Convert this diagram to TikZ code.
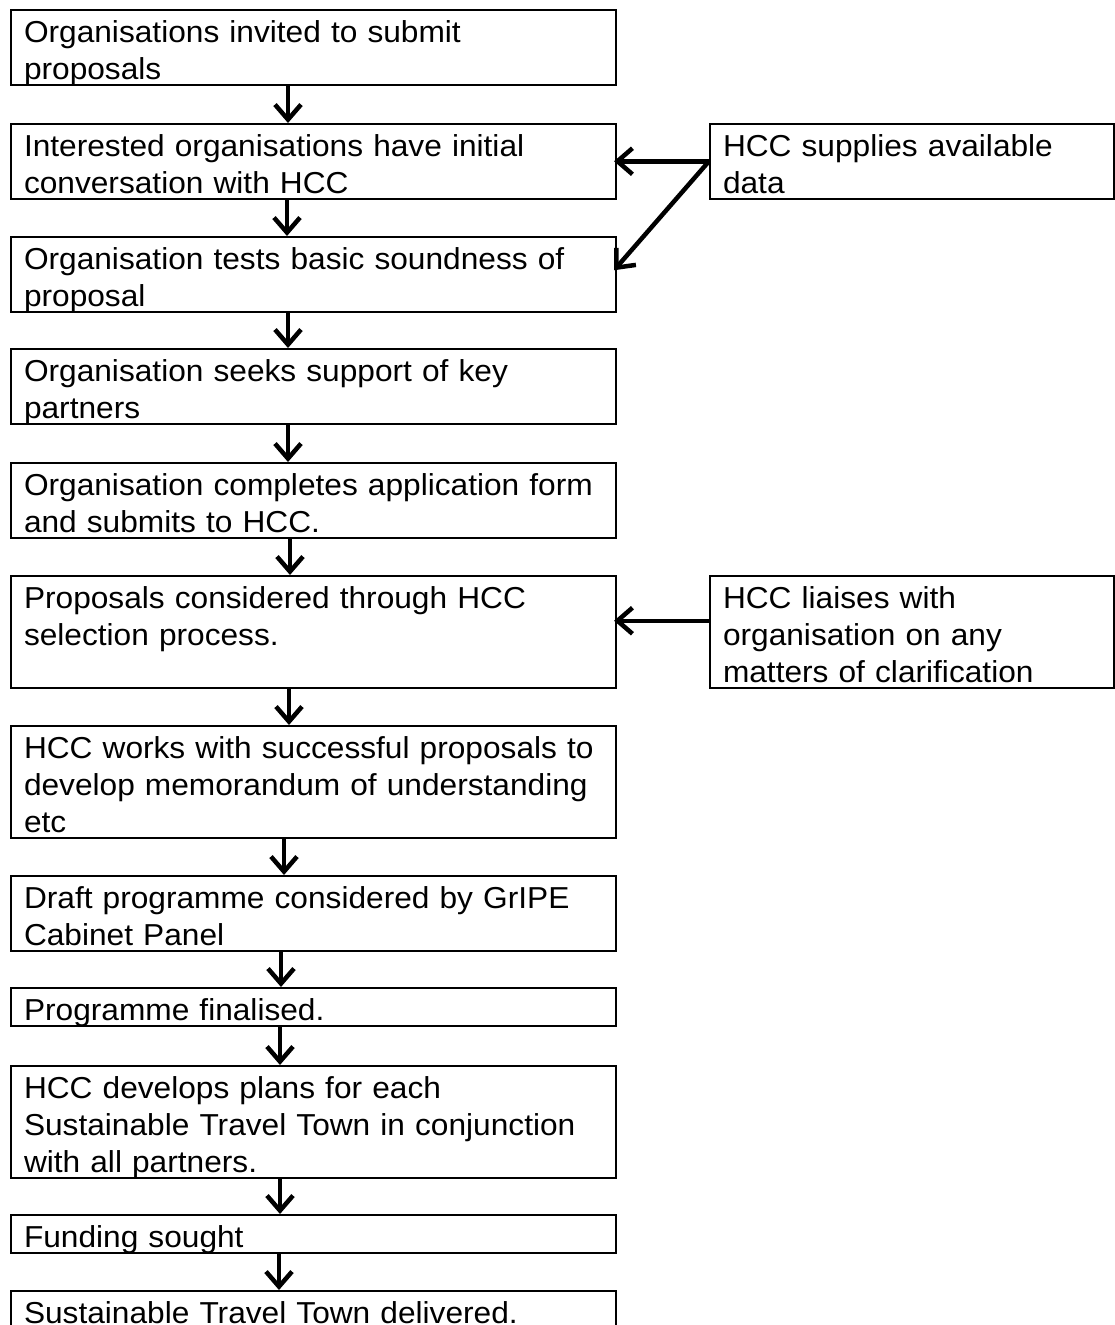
\documentclass[tikz,border=0pt]{standalone}
\usepackage{fontspec}
\setmainfont{Liberation Sans}[FakeStretch=1.045]
\usepackage{tikz}
\usetikzlibrary{calc, arrows.meta}
\tikzstyle{stage}=[draw, line width=2pt, shape=rectangle, anchor=north west, inner xsep=13pt, inner ysep=0pt, text width=579pt, align=left, text height=32.5pt, font=\fontsize{30.3}{37}\selectfont]
\tikzstyle{side}=[stage, text width=378pt]
\tikzstyle{oneln}=[text depth=5pt]
\tikzstyle{twoln}=[text depth=42pt]
\tikzstyle{threeln}=[text depth=79pt]
\tikzstyle{flow}=[line width=4.5pt, -{Straight Barb[length=15pt, width=26pt]}]

\begin{document}
\begin{tikzpicture}[x=1pt, y=-1pt]
\useasboundingbox (0,0) rectangle (1114,1325);
% the main column of stages
\node[stage, twoln] (S1) at (10, 9) {Organisations invited to submit\\proposals};
\node[stage, twoln] (S2) at (10, 123) {Interested organisations have initial\\conversation with HCC};
\node[stage, twoln] (S3) at (10, 236) {Organisation tests basic soundness of\\proposal};
\node[stage, twoln] (S4) at (10, 348) {Organisation seeks support of key\\partners};
\node[stage, twoln] (S5) at (10, 462) {Organisation completes application form\\and submits to HCC.};
\node[stage, threeln] (S6) at (10, 575) {Proposals considered through HCC\\selection process.};
\node[stage, threeln] (S7) at (10, 725) {HCC works with successful proposals to\\develop memorandum of understanding\\etc};
\node[stage, twoln] (S8) at (10, 875) {Draft programme considered by GrIPE\\Cabinet Panel};
\node[stage, oneln] (S9) at (10, 987) {Programme finalised.};
\node[stage, threeln] (S10) at (10, 1065) {HCC develops plans for each\\Sustainable Travel Town in conjunction\\with all partners.};
\node[stage, oneln] (S11) at (10, 1214) {Funding sought};
\node[stage, oneln] (S12) at (10, 1290) {Sustainable Travel Town delivered.};
% the ``side'' boxes
\node[side, twoln] (data) at (709, 123) {HCC supplies available\\data};
\node[side, threeln] (liaise) at (709, 575) {HCC liaises with\\organisation on any\\matters of clarification};
% the arrows down the column
\foreach \a/\b/\x in {S1/S2/288, S2/S3/287, S3/S4/288, S4/S5/288, S5/S6/290, S6/S7/289, S7/S8/284, S8/S9/281, S9/S10/280, S10/S11/280, S11/S12/279}
  \draw[flow] ($(\a.south west)+(\x-10,0)$) -- ($(\b.north west)+(\x-10,0)$);
% the arrows from the side boxes
\draw[flow] (data.west) -- ([xshift=-3pt]S2.east);
\draw[flow] (data.west) -- ([xshift=-3pt, yshift=4pt]S3.east);
\draw[flow] ([yshift=11pt]liaise.west) -- ([xshift=-3pt, yshift=11pt]S6.east);
\end{tikzpicture}
\end{document}
